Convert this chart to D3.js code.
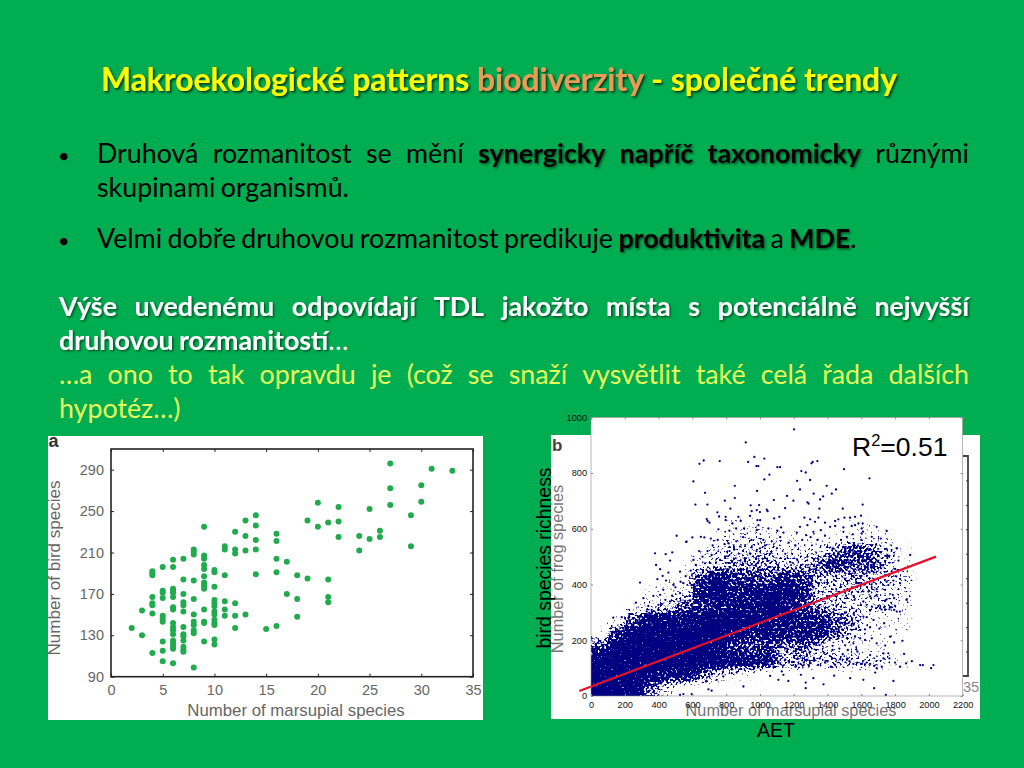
<!DOCTYPE html>
<html><head><meta charset="utf-8">
<script src="https://cdn.jsdelivr.net/npm/d3@7"></script>
<style>html,body{margin:0;padding:0;background:#00ad50;overflow:hidden}svg{display:block}</style>
</head><body><svg id="c" width="1024" height="768"></svg>
<script>
// ---------- slide text ----------
const titleRuns = [["Makroekologické patterns ","y"],["biodiverzity","o"],[" - společné trendy","y"]];
const bodyLines = [
 {x:97,to:969,y:163,runs:[["Druhová rozmanitost se mění","n"],["synergicky napříč taxonomicky","b"],["různými","n"]]},
 {x:97,y:197,runs:[["skupinami organismů.","n"]]},
 {x:97,y:248,runs:[["Velmi dobře druhovou rozmanitost predikuje","n"],["produktivita","b"],["a","n"],["MDE","b"]],tail:"."},
 {x:59,to:969,y:316,runs:[["Výše uvedenému odpovídají TDL jakožto místa s potenciálně nejvyšší","w"]]},
 {x:59,y:350,runs:[["druhovou rozmanitostí","w"]],tail:"…",tailColor:"#fff"},
 {x:59,to:969,y:384,runs:[["…a ono to tak opravdu je (což se snaží vysvětlit také celá řada dalších","g"]]},
 {x:59,y:418,runs:[["hypotéz…)","g"]]}
];
const bulletRows = [163,248];
// ---------- panel a ----------
const marsupialTicks = [0,5,10,15,20,25,30,35];
const birdTicks = [90,130,170,210,250,290];
const marsupialBird = [[2,137],[3,154],[3,130],
[4,192],[4,190],[4,188],[4,167],[4,161],[4,159],[4,151],[4,113],
[5,196],[5,173],[5,171],[5,166],[5,149],[5,146],[5,143],[5,124],[5,115],[5,105],
[6,203],[6,196],[6,175],[6,173],[6,171],[6,167],[6,157],[6,155],[6,142],[6,138],[6,135],[6,131],[6,125],[6,122],[6,120],[6,117],[6,103],
[7,204],[7,184],[7,170],[7,162],[7,159],[7,153],[7,138],[7,131],[7,129],[7,125],[7,119],[7,116],[7,114],
[8,213],[8,211],[8,208],[8,183],[8,165],[8,150],[8,143],[8,140],[8,135],[8,132],[8,99],
[9,235],[9,207],[9,204],[9,198],[9,194],[9,187],[9,181],[9,178],[9,175],[9,155],[9,143],[9,142],[9,124],
[10,193],[10,191],[10,177],[10,164],[10,161],[10,158],[10,153],[10,150],[10,145],[10,142],[10,140],[10,126],[10,121],
[11,216],[11,213],[11,188],[11,163],[11,155],[11,149],
[12,230],[12,213],[12,209],[12,161],[12,149],[12,137],
[13,241],[13,226],[13,212],[13,150],
[14,246],[14,236],[14,222],[14,213],[14,189],
[15,136],[16,228],[16,221],[16,204],[16,191],[16,139],
[17,201],[17,170],[18,188],[18,165],[18,148],[19,241],[19,185],
[20,258],[20,235],[21,239],[21,184],[21,167],[21,162],
[22,254],[22,240],[22,225],[24,226],[24,212],[25,252],[25,223],[26,231],[26,225],
[27,296],[27,272],[27,256],[29,246],[29,216],[30,275],[30,259],[31,291],[33,289]];
// ---------- panel b (bird richness vs AET) ----------
const aetTicks = d3.range(0,2201,200);
const richTicks = [0,200,400,600,800,1000];
const fitLine = [[-69,18],[2042,500]];
// estimated dot coverage (0-9) where single dots cannot be read.
// each row: one richness band, 50 wide, top band first; each digit: one AET band, 100 wide
const coverTop = 650, coverStepY = 50, coverStepX = 100;
const coverRows = [
 "000000001100000110000",
 "000000012221111111000",
 "000000123332224653100",
 "000001234443357563100",
 "000011686657643433200",
 "000112797788733332200",
 "001235678898643223200",
 "015888899988775411100",
 "169999998777775311100",
 "699999986564531211000",
 "999999998873434332100",
 "999978521100000000000",
 "999520000000000000000"
];
const aetBird = [[1202,957],[916,910],[642,833],[667,845],[762,843],[967,858],[930,840],[979,825],[990,825],[1026,852],[1103,821],[1119,821],[1305,835],[1312,840],[1340,843],[1245,807],[1271,802],[1498,814],[1056,794],[1026,777],[1220,772],[1297,775],[1648,781],[606,770],[851,754],[983,736],[1237,741],[1395,754],[1450,741],[675,729],[1318,726],[1425,726],[1160,718],[1374,716],[1356,705],[851,710],[1082,703],[1198,701],[1281,695],[1288,690],[792,701],[618,687],[689,687],[1608,687],[995,685],[945,684],[825,672],[1149,674],[1040,669],[1045,663],[981,667],[1000,660],[1352,672],[1490,672],
[685,635],[690,628],[701,622],[748,659],[758,644],[797,643],[797,631],[837,619],[872,643],[886,628],[941,646],[951,663],[985,631],[1001,631],[991,613],[1084,637],[1115,643],[1125,605],[1263,640],[1297,634],[1281,613],[1326,625],[1346,640],[1385,622],[1445,628],[1464,634],[1500,640],[1533,640],[1563,643],[1598,647],[1583,619],[1608,619],[1415,607],[1445,610],[1494,605],[1543,610],[1563,613],[1691,607],[1750,592],[507,575],[563,553],[600,569],[650,571],[671,569],[709,565],[754,598],[819,593],[859,601],[906,601],[981,595],[1050,601],[1103,593],[1139,586],[1237,607],[1218,586],[1273,577],[1316,589],[1360,595],[1494,589],[1514,571],[1602,601],[1602,583],[1662,571],[1715,565],[1810,530],
[379,512],[442,509],[481,515],[385,470],[409,455],[468,486],[527,446],[458,443],[566,554],[290,407],[424,431],[393,419],[444,414],[266,335],[369,359],[339,323],[132,281],[182,283],[221,279],[118,243],[310,351],[428,381],[409,363],[487,399],[547,405],[586,405],[527,369],[606,357],[468,339],[399,327],[359,309],[330,303],[290,285],[251,279],[606,488],[675,476],[714,506],[764,488],[813,548],[882,536],[941,512],[1000,530],
[714,19],[695,24],[527,4],[547,7],[596,7],[833,82],[862,84],[902,34],[744,58],[783,70],[598,80],[640,72],[700,70],[680,52],
[1749,528],[1810,530],[1754,505],[1741,503],[1766,503],[1754,495],[1889,506],[1820,486],[1800,456],[1745,434],[1717,458],[1829,420],[1829,405],[1790,414],[1750,410],[1760,398],[1691,383],[1642,375],[1652,357],[1691,363],[1741,381],[1786,363],[1794,351],[1750,347],[1867,345],[1612,339],[1632,327],[1662,321],[1687,315],[1711,315],[1741,311],[1766,311],[1794,309],[1810,303],[1829,303],[1800,323],[1701,323],[1652,306],[1720,310],[1735,318],[1775,318],[1612,285],[1632,283],[1672,273],[1735,261],[1707,242],[1553,255],[1543,237],[1593,237],[1622,239],[1652,247],[1563,213],[1593,207],[1622,201],[1662,207],[1691,189],[1770,213],[1741,181],[1794,192],[1843,198],[1553,189],[1577,159],[1652,147],[1731,153],[1760,153],[1731,135],[1766,135],[1853,151],[1800,120],[1899,125],[1553,115],[1577,120],[1603,115],[1632,120],[1652,115],[1676,108],[1691,100],[1721,105],[1829,105],[1865,117],[1948,111],[1964,111],[2027,111],[2013,100],[1682,84],[1534,64],[1612,58],[1790,54],[1676,28],[1745,4],[1439,73],[1376,42],[1271,48],[1271,28],[1316,64],[1242,76],[1168,54],[1109,58],[1129,88],[1139,76],[1060,72],
[1080,147],[1100,135],[1120,118],[1150,130],[1170,125],[1190,122],[1220,132],[1240,115],[1260,120],[1280,130],[1300,118],[1325,128],[1355,135],[1385,120],[1400,125],[1445,112],[1475,132],[1490,150],[1515,130],[1530,125],[1085,105],[1140,110],[1210,105],[1290,108],[1345,112],[1420,105],[1380,155],[1430,165],[1470,170],[1520,165],
[1310,310],[1350,315],[1395,300],[1440,310],[1480,320],[1510,300],[1545,315],[1560,345],[1330,275],[1370,260],[1410,270],[1450,265],[1490,280],[1515,260],[1300,235],[1345,210],[1385,220],[1430,180],[1460,205],[1245,165],[1280,175],[1320,185],[1200,160],[1160,170],[1110,180],[1510,360],[1530,380],[1570,405],[1600,430],[1640,455],[1660,480],[1590,475],[1625,520],[1640,500],[1600,560],[1550,580],[1480,560],[1430,530],[1385,575],[1340,560],[1300,570],[1250,560],[1210,540],[1170,550],[1120,570],[1070,555],[1020,560],
[1610,495],[1630,440],[1580,395],[1560,440],[1620,400],[1660,400],[1540,470],[1550,510],[1580,540],[1610,590],[1350,405],[1310,395],[1290,450],[1280,500],[1240,460],[1220,490],[1180,480],[1150,510],[1100,530],[1060,510],[1030,540],[980,520],[950,560],[900,570],[860,555],[820,520],[790,545],[750,560],[720,540],[690,520],[660,500],[640,520],[620,470],[590,450],[560,430],[530,410],[500,390],[480,360],[440,345],[420,330],
[760,120],[790,145],[820,160],[850,150],[880,165],[910,180],[940,155],[970,170],[1000,160],[1030,175],[1050,150],[1080,165],[770,175],[800,195],[830,215],[860,205],[895,225],[925,240],[955,215],[985,200],[1015,225],[1045,205],[1075,235],[1100,215],[1130,190],[1160,210],[1190,245],[1220,220],[1250,250],[1280,215]];
</script>
<script>
const svg = d3.select("#c");
svg.append("rect").attr("width",1024).attr("height",768).attr("fill","#00ad50");
const defs = svg.append("defs");
function shadow(id,dx,blur,op){
  const f = defs.append("filter").attr("id",id).attr("x","-10%").attr("y","-30%").attr("width","120%").attr("height","170%");
  f.append("feDropShadow").attr("dx",dx).attr("dy",dx).attr("stdDeviation",blur).attr("flood-color","#000").attr("flood-opacity",op);
}
shadow("sh",1.6,.8,.75); shadow("sh2",1.3,.9,.6);
// turns the blurred coverage field into a speckled navy texture
const st = defs.append("filter").attr("id","stipple").attr("filterUnits","userSpaceOnUse")
  .attr("x",570).attr("y",400).attr("width",410).attr("height",310).attr("color-interpolation-filters","sRGB");
st.append("feGaussianBlur").attr("in","SourceAlpha").attr("stdDeviation",3.5).attr("result","d");
st.append("feComponentTransfer").attr("in","d").attr("result","e").append("feFuncA").attr("type","linear").attr("slope",8).attr("intercept",-.1);
st.append("feTurbulence").attr("type","fractalNoise").attr("baseFrequency",.45).attr("numOctaves",1).attr("seed",7).attr("result","t");
st.append("feColorMatrix").attr("in","t").attr("type","matrix")
  .attr("values","0 0 0 0 0  0 0 0 0 0  0 0 0 0 0  2 0 0 0 -.5").attr("result","n");
st.append("feComposite").attr("in","d").attr("in2","n").attr("operator","arithmetic")
  .attr("k1",0).attr("k2",5).attr("k3",5).attr("k4",-4.6).attr("result","m");
st.append("feComposite").attr("in","m").attr("in2","e").attr("operator","in").attr("result","mm");
st.append("feFlood").attr("flood-color","#000080").attr("result","navy");
st.append("feComposite").attr("in","navy").attr("in2","mm").attr("operator","in");
defs.append("clipPath").attr("id","plotClip").append("rect").attr("x",591).attr("y",417.3).attr("width",371.7).attr("height",278.7);

const BODY = "Lato, 'Noto Sans', sans-serif";
const BODY_SIZE = 26.8, TITLE_SIZE = 26.4;
const STY = {
  n:{fill:"#000",w:400},
  b:{fill:"#000",w:700,f:"url(#sh2)"},
  w:{fill:"#fff",w:700,f:"url(#sh2)"},
  g:{fill:"#e9ff5c",w:400}
};
(function(){
  const t = svg.append("text").attr("x",101).attr("y",91).attr("font-family",BODY).attr("font-weight",700)
    .attr("font-size",TITLE_SIZE).attr("filter","url(#sh)").attr("xml:space","preserve").style("white-space","pre");
  titleRuns.forEach(r=>t.append("tspan").text(r[0]).attr("fill",r[1]==="y"?"#ffff00":"#ec9a55"));
  const len = t.node().getComputedTextLength();
  t.attr("font-size",TITLE_SIZE*796/len);
})();
bulletRows.forEach(y=>svg.append("text").attr("x",58).attr("y",y).attr("font-family",BODY).attr("font-size",20).attr("fill","#000").text("•"));
bodyLines.forEach(line=>{
  const words=[];
  line.runs.forEach(r=>r[0].split(" ").forEach(w=>words.push({t:w,s:STY[r[1]]})));
  const g = svg.append("g");
  const nodes = words.map(w=>g.append("text").attr("y",line.y).attr("font-family",BODY).attr("font-size",BODY_SIZE)
     .attr("font-weight",w.s.w).attr("fill",w.s.fill).attr("filter",w.s.f||null).text(w.t));
  const widths = nodes.map(n=>n.node().getComputedTextLength());
  const sum = d3.sum(widths);
  const gap = line.to ? (line.to-line.x-sum)/(words.length-1) : BODY_SIZE*.2;
  let x = line.x;
  nodes.forEach((n,i)=>{ n.attr("x",x); x += widths[i]+gap; });
  if(line.tail){ svg.append("text").attr("x",x-gap).attr("y",line.y).attr("font-family",BODY).attr("font-size",BODY_SIZE)
     .attr("fill",line.tailColor||"#000").text(line.tail); }
});

const SANS = "'Liberation Sans', Arial, sans-serif";
// ---------- panel a ----------
svg.append("rect").attr("x",48).attr("y",436).attr("width",435).attr("height",284).attr("fill","#fff");
const ax = d3.scaleLinear().domain([0,35]).range([111,473]);
const ay = d3.scaleLinear().domain([90,310]).range([676.7,449]);
function style(g,col,fs,tc){ g.select(".domain").remove();
  g.selectAll("line").attr("stroke",col).attr("stroke-width",1);
  g.selectAll("text").attr("font-family",SANS).attr("font-size",fs).attr("fill",tc||col); }
svg.append("g").selectAll("circle").data(marsupialBird).join("circle")
  .attr("cx",d=>ax(d[0])).attr("cy",d=>ay(d[1])).attr("r",3).attr("fill","#22ab4e");
svg.append("rect").attr("x",111).attr("y",449).attr("width",362).attr("height",227.7).attr("fill","none").attr("stroke","#222").attr("stroke-width",1.6);
svg.append("g").attr("transform","translate(0,676.7)")
  .call(d3.axisBottom(ax).tickValues(marsupialTicks).tickSize(-3).tickPadding(8)).call(style,"#222",14.5,"#666");
svg.append("g").attr("transform","translate(0,449)")
  .call(d3.axisTop(ax).tickValues(marsupialTicks).tickSize(-3).tickFormat("")).call(style,"#222",14.5);
svg.append("g").attr("transform","translate(111,0)")
  .call(d3.axisLeft(ay).tickValues(birdTicks).tickSize(-3).tickPadding(7)).call(style,"#222",14.5,"#666");
svg.append("g").attr("transform","translate(473,0)")
  .call(d3.axisRight(ay).tickValues(birdTicks).tickSize(-3).tickFormat("")).call(style,"#222",14.5);
function label(x,y,txt,fs,col,rot,anchor,w){
  svg.append("text").attr("transform",`translate(${x},${y})`+(rot?` rotate(${rot})`:"")).attr("text-anchor",anchor||"middle")
   .attr("font-family",SANS).attr("font-size",fs).attr("fill",col).attr("font-weight",w||400).text(txt);
}
label(296,716,"Number of marsupial species",16.8,"#666");
label(60,568,"Number of bird species",17,"#666",-90);
label(48.5,447,"a",18,"#333",0,"start",700);

// ---------- panel b, underlying picture ----------
svg.append("rect").attr("x",551).attr("y",435).attr("width",429).attr("height",284).attr("fill","#fff");
label(552,451,"b",17,"#444",0,"start",700);
label(563,569,"Number of frog species",16.3,"#777",-90);
label(791,716,"Number of marsupial species",16.3,"#777");
label(963,692,"35",14.5,"#888",0,"start");
svg.append("path").attr("d","M963,456H968V676H963").attr("fill","none").attr("stroke","#444").attr("stroke-width",1.8);
const fy = d3.scaleLinear().domain([0,9]).range([676,456]);
svg.append("g").attr("transform","translate(968,0)").call(d3.axisLeft(fy).tickValues(d3.range(1,9)).tickSize(2).tickFormat("")).call(style,"#333",8);

// ---------- panel b, overlaid scatter ----------
const bx = d3.scaleLinear().domain([0,2200]).range([591,962.7]);
const by = d3.scaleLinear().domain([0,1000]).range([696,417.3]);
svg.append("rect").attr("x",591).attr("y",417.3).attr("width",371.7).attr("height",278.7).attr("fill","#fff");
const cells = coverRows.flatMap((row,r)=>row.split("").map((c,k)=>({k,top:coverTop-r*coverStepY,v:+c}))).filter(d=>d.v>0);
svg.append("g").attr("clip-path","url(#plotClip)").append("g").attr("filter","url(#stipple)")
  .selectAll("rect").data(cells).join("rect")
  .attr("x",d=>bx(d.k*coverStepX)-(d.k===0?12:0))
  .attr("width",d=>bx(coverStepX)-bx(0)+(d.k===0?12:0)+.5)
  .attr("y",d=>by(d.top))
  .attr("height",d=>by(0)-by(coverStepY)+(d.top===coverStepY?12:0)+.5)
  .attr("fill","#000080").attr("fill-opacity",d=>d.v/9);
svg.append("g").selectAll("circle").data(aetBird).join("circle")
  .attr("cx",d=>bx(d[0])).attr("cy",d=>by(d[1])).attr("r",1.15).attr("fill","#000080");
const line2 = d3.line().x(d=>bx(d[0])).y(d=>by(d[1]));
svg.append("path").attr("d",line2(fitLine)).attr("stroke","#e8102a").attr("stroke-width",2.2).attr("fill","none");
const GR="#888", fmt=d3.format("d");
svg.append("rect").attr("x",591).attr("y",417.3).attr("width",371.7).attr("height",278.7).attr("fill","none").attr("stroke",GR).attr("stroke-width",.6);
svg.append("g").attr("transform","translate(0,696)").call(d3.axisBottom(bx).tickValues(aetTicks).tickFormat(fmt).tickSize(-2).tickPadding(5)).call(style,GR,9.2,"#111");
svg.append("g").attr("transform","translate(0,417.3)").call(d3.axisTop(bx).tickValues(aetTicks).tickSize(-2).tickFormat("")).call(style,GR,9.2);
svg.append("g").attr("transform","translate(591,0)").call(d3.axisLeft(by).tickValues(richTicks).tickFormat(fmt).tickSize(-2).tickPadding(4)).call(style,GR,9.2,"#111");
svg.append("g").attr("transform","translate(962.7,0)").call(d3.axisRight(by).tickValues(richTicks).tickSize(-2).tickFormat("")).call(style,GR,9.2);
label(551,558,"bird species richness",19.4,"#000",-90);
label(776,737,"AET",19.5,"#000");
const r2 = svg.append("text").attr("x",852).attr("y",456).attr("font-family",SANS).attr("font-size",26.5).attr("fill","#000");
r2.append("tspan").text("R");
r2.append("tspan").text("2").attr("font-size",16.5).attr("dy",-10);
r2.append("tspan").text("=0.51").attr("dy",10);
</script></body></html>
